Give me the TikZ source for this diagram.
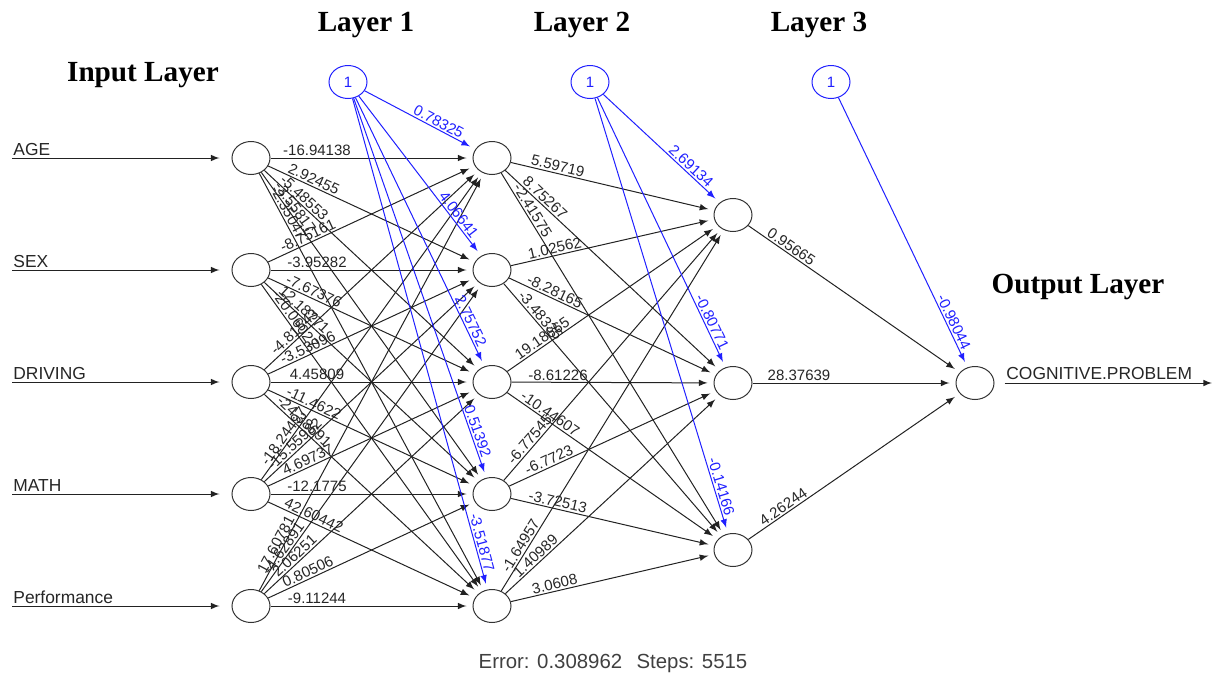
\documentclass[tikz,border=0pt]{standalone}
\usepackage{fontspec}
\setmainfont{Liberation Serif}
\newfontfamily\plotfont{Liberation Sans}
\usepackage{tikz}
\usetikzlibrary{arrows}
\usetikzlibrary{calc}
\usetikzlibrary{shapes.geometric}
\definecolor{biascolor}{HTML}{2020FF}
\definecolor{edgecolor}{HTML}{222222}

\begin{document}
\begin{tikzpicture}[x=0.5pt,y=-0.5pt,
    neuron/.style={draw=black!80,ellipse,minimum width=19pt,minimum height=16.5pt,inner sep=0pt,line width=0.5pt,fill=white},
    biasnode/.style={neuron,draw=biascolor,text=biascolor,font=\plotfont\fontsize{7.5}{8}\selectfont},
    conn/.style={draw=edgecolor,line width=0.5pt,-latex,shorten >=3pt},
    biasconn/.style={conn,draw=biascolor},
    wlab/.style={sloped,anchor=south,inner sep=0.8pt,font=\plotfont\fontsize{7.5}{8}\selectfont,text=black!85},
    layertitle/.style={font=\bfseries\fontsize{14.6}{16}\selectfont},
    varlab/.style={anchor=base west,inner sep=0pt,font=\plotfont\fontsize{8.7}{10}\selectfont,text=black!85}]
\useasboundingbox (0,0) rectangle (1212,675);

%% neurons
\foreach \i/\y in {1/158,2/270,3/382,4/494,5/606} {
    \node[neuron] (i\i) at (251,\y) {};
    \node[neuron] (h\i) at (492,\y) {};
}
\foreach \i/\y in {1/215,2/383,3/550}
    \node[neuron] (o\i) at (733,\y) {};
\node[neuron] (out) at (975,383) {};
\node[biasnode] (b1) at (348,82) {1};
\node[biasnode] (b2) at (590,82) {1};
\node[biasnode] (b3) at (831,82) {1};

%% inputs and output
\foreach \i/\y/\vname in {1/158/AGE,2/270/SEX,3/382/DRIVING,4/494/MATH,5/606/Performance} {
    \coordinate (s\i) at (12,\y);
    \node[varlab] (v\i) at (13,\y-3) {\vname};
    \draw[conn,shorten >=6pt] (s\i) -- (i\i);
}
\coordinate (e) at (1212,383);
\draw[conn,shorten <=5pt,shorten >=0pt] (out) -- (e);
\node[varlab] (vout) at (1006,379) {COGNITIVE.PROBLEM};

%% weights
\foreach \src/\dst/\wt in {i1/h1/-16.94138, i1/h2/2.92455, i1/h3/-5.48553, i1/h4/-3.55817, i1/h5/-2.35047,
    i2/h1/-8.75161, i2/h2/-3.95282, i2/h3/-7.67376, i2/h4/12.18771, i2/h5/-20.06027,
    i3/h1/-4.81543, i3/h2/-3.53096, i3/h3/4.45809, i3/h4/-11.4622, i3/h5/-24.38691,
    i4/h1/-18.24497, i4/h2/-15.55982, i4/h3/4.69737, i4/h4/-12.1775, i4/h5/42.60442,
    i5/h1/17.60781, i5/h2/-4.62891, i5/h3/2.06251, i5/h4/0.80506, i5/h5/-9.11244,
    h1/o1/5.59719, h1/o2/8.75267, h1/o3/-2.41575,
    h2/o1/1.02562, h2/o2/-8.28165, h2/o3/-3.48335,
    h3/o1/19.18665, h3/o2/-8.61226, h3/o3/-10.44607,
    h4/o1/-6.77545, h4/o2/-6.7723, h4/o3/-3.72513,
    h5/o1/-1.64957, h5/o2/1.40989, h5/o3/3.0608,
    o1/out/0.95665, o2/out/28.37639, o3/out/4.26244} {
    \draw[conn] (\src) -- (\dst);
    \path ($(\src)!33pt!(\dst)$) -- (\dst) node[wlab,pos=0] {\wt};
}
\foreach \src/\dst/\wt in {b1/h1/0.78325, b1/h2/4.06641, b1/h3/2.75752, b1/h4/0.51392, b1/h5/-3.51877,
    b2/o1/2.69134, b2/o2/-0.80771, b2/o3/-0.14166, b3/out/-0.98044} {
    \draw[biasconn] (\src) -- (\dst);
    \path ($(\dst)!32pt!(\src)$) -- (\dst) node[wlab,pos=0,text=biascolor] {\wt};
}

%% titles
\node[layertitle] (t1) at (366,25) {Layer 1};
\node[layertitle] (t2) at (582,25) {Layer 2};
\node[layertitle] (t3) at (819,25) {Layer 3};
\node[layertitle] (tin) at (143,75) {Input Layer};
\node[layertitle] (tout) at (1078,287) {Output Layer};
\node[font=\plotfont\fontsize{10.2}{12}\selectfont,text=black!75] (err) at (613,663) {Error: 0.308962\hspace{0.7em}Steps: 5515};
\end{tikzpicture}
\end{document}
